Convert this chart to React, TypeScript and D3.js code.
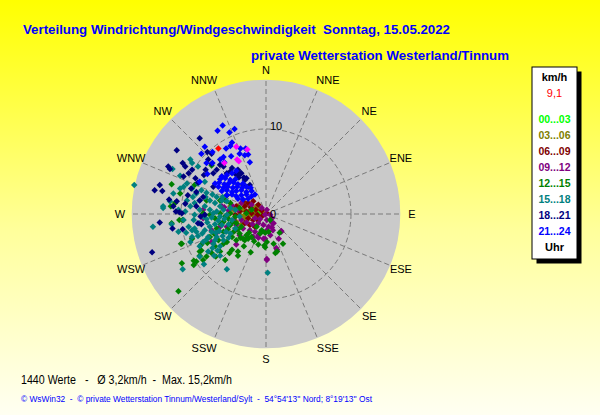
import React from "react";
import * as d3 from "d3";

const W = 600;
const H = 415;
const CX = 266;
const CY = 214;

const compassLabels = ["N", "NNE", "NE", "ENE", "E", "ESE", "SE", "SSE", "S", "SSW", "SW", "WSW", "W", "WNW", "NW", "NNW"];
const ringValues = [10];
const centerLabel = "0";
const maxAxisSpeed = 15.8;
const legendUnit = "km/h";
const currentSpeedLabel = "9,1";
const hourBands = ["00...03", "03...06", "06...09", "09...12", "12...15", "15...18", "18...21", "21...24"];
const bandColors = ["#00ff00", "#808000", "#800000", "#800080", "#008000", "#008080", "#000080", "#0000ff"];
const legendFooter = "Uhr";
const title1 = "Verteilung Windrichtung/Windgeschwindigkeit  Sonntag, 15.05.2022";
const title2 = "private Wetterstation Westerland/Tinnum";
const statsText = "1440 Werte   -   \u00D8 3,2km/h  -  Max. 15,2km/h";
const footerText = "\u00A9 WsWin32  -  \u00A9 private Wetterstation Tinnum/Westerland/Sylt  -  54\u00B054'13'' Nord; 8\u00B019'13'' Ost";

// wind vectors per 3-hour band: [east component, north component] in km/h
const h00: number[][] = [[-1.0, 0.3], [-0.6, 0.2], [-1.4, 0.5], [-0.8, -0.2]];
const h03: number[][] = [
  [-3.8, 0.5], [-3.3, 0.9], [-2.7, 0.5], [-2.3, 1.2], [-1.7, 0.7], [-1.1, 0.9], [-3.6, -0.3], [-3.1, -0.1],
  [-2.5, -0.5], [-1.9, -0.1], [-1.3, 0.1], [-0.7, 0.5], [-3.5, -0.9], [-2.9, -1.2], [-1.5, -0.2], [-0.8, -0.5],
  [-4.2, 0.9], [-4.4, -0.1], [-0.3, 0.1], [-2.0, 0.3], [-2.6, -0.2],
];
const h06: number[][] = [
  [-2.7, 1.5], [-2.1, 1.3], [-1.5, 1.5], [-0.9, 1.1], [-2.5, 0.9], [-1.8, 0.8], [-1.2, 0.5], [-0.5, 0.4],
  [-2.3, 0.3], [-1.7, 0.1], [-1.0, -0.1], [-0.4, -0.2], [-2.1, -0.5], [-1.5, -0.7], [-0.9, -0.8], [-2.5, -1.1],
  [-1.9, -1.3], [-1.3, -1.5], [-3.1, 0.3], [-3.5, 0.9], [-3.6, -0.1], [0.1, 0.1],
];
const h09: number[][] = [
  [-1.7, 1.1], [-0.5, 0.7], [0.1, 0.5], [-0.1, -0.1], [0.5, -0.1], [-1.3, -0.5], [-0.7, -0.6], [0.1, -0.7],
  [0.7, -0.5], [-2.9, -0.7], [-2.3, -1.0], [-1.6, -1.2], [-0.9, -1.1], [-0.3, -1.3], [0.3, -1.5], [-3.5, -1.3],
  [-2.7, -1.7], [-1.9, -1.9], [-1.3, -2.1], [-0.5, -2.1], [0.1, -1.9], [0.8, -1.9], [-3.6, -1.9], [-3.1, -2.5],
  [-2.2, -2.7], [-1.6, -2.7], [-0.9, -2.5], [-0.1, -2.9], [1.8, -2.1], [1.5, -2.9], [0.1, -5.4], [1.2, -4.0],
  [-5.2, 0.9], [-7.4, -0.5], [-6.4, -1.9], [-5.4, -1.5], [-4.6, -1.5], [-3.8, -0.7], [-3.3, 0.5], [-2.9, 1.3],
  [0.9, -1.1], [0.5, -2.5], [-7.4, 0.5], [-6.4, -3.3], [-5.9, -2.3], [-3.5, -3.6], [0.1, -5.3], [1.3, -4.2],
  [1.8, -2.0], [0.7, -1.6], [0.7, -1.0], [-0.3, -2.9], [-0.9, -2.8], [-1.5, -2.7], [-4.9, 0.8], [-4.4, 0.4], [-4.0, 1.0],
];
const h12: number[][] = [
  [-11.1, 3.5], [-11.2, 0.9], [-10.2, -0.7], [-10.0, -3.5], [-8.5, -5.5], [-8.5, -6.0], [-10.3, -9.1], [-7.6, -4.3],
  [-7.0, -5.0], [-7.8, -4.9], [-6.4, 5.7], [-4.0, -4.2], [-3.3, -4.4], [-3.3, -4.9], [-4.8, -5.4], [-1.8, -4.5],
  [-0.2, -3.7], [-0.1, -3.9], [0.9, -3.5], [2.0, -3.5], [1.1, -4.6], [1.3, -4.4], [1.6, -2.2], [0.3, -2.1],
  [-0.7, -2.3], [-0.1, -2.2], [-2.7, -2.9], [-2.1, -2.9], [0.5, -0.7],
  [-6.6, -0.1], [-6.0, -0.5], [-5.4, 0.1], [-4.8, -0.3], [-4.2, 0.1], [-3.6, -0.3], [-5.0, -0.9], [-4.2, -1.3],
  [-3.5, -1.1], [-2.9, -1.5], [-5.8, -1.7], [-5.0, -2.1], [-3.8, -2.1], [-3.1, -2.3], [-2.3, -2.5], [-6.6, -2.7],
  [-5.6, -3.1], [-4.6, -3.3], [-3.5, -3.1], [-2.5, -3.1], [-1.7, -2.7], [-7.6, -3.6], [-6.0, -3.8], [-5.0, -3.5],
  [-7.8, -4.4], [-6.4, -4.6], [-5.4, -4.4], [-7.4, -5.4], [-8.2, -5.6], [-9.9, -3.5], [-9.9, -5.8], [0.1, -3.3],
  [-1.1, -1.5], [-0.5, -1.9], [-2.3, 0.1], [-1.7, 0.5], [-3.1, 0.7], [-4.2, 1.3], [-4.8, 1.6], [-5.4, 1.6],
  [-7.4, 0.1], [-7.0, 1.6], [-11.1, -1.1], [-10.7, 1.3], [-10.1, 2.4], [-8.4, 3.4], [-9.8, -0.7], [-8.7, -2.9], [-4.6, 2.2],
  [-4.4, -0.6], [-3.9, -0.9], [-5.3, -1.2], [-4.5, -1.8], [-3.3, -1.8], [-4.0, -2.7], [-3.0, -2.8], [-2.0, -2.2],
  [-1.4, -3.2], [-6.1, -2.3], [-6.9, -3.4], [-5.9, -5.0], [-0.9, -3.6], [-2.6, -3.8], [-4.3, -4.6],
];
const h15: number[][] = [
  [-15.5, 3.4], [-13.3, -1.5], [-11.0, 5.3], [-8.9, 6.4], [-8.7, 6.0], [-10.1, 4.5], [-9.7, 3.2], [-8.0, 5.6],
  [-11.1, -1.2], [-8.7, -1.9], [-8.4, -1.7], [-9.8, -6.5], [-7.3, -5.9], [-6.1, -4.9], [-5.4, -4.9], [-4.6, -6.5],
  [0.2, -6.9], [-12.1, 0.7],
  [-8.7, 3.0], [-8.2, 2.4], [-7.6, 2.8], [-7.1, 2.0], [-7.8, 1.6], [-8.4, 1.3], [-6.6, 1.6], [-6.0, 1.3],
  [-5.4, 0.9], [-7.2, 0.9], [-7.8, 0.5], [-6.6, 0.5], [-5.8, 0.3], [-5.0, 0.5], [-8.4, -0.1], [-7.4, -0.3],
  [-6.4, -0.4], [-5.4, -0.3], [-4.6, -0.1], [-7.8, -1.1], [-6.9, -1.0], [-6.0, -1.2], [-5.2, -1.3], [-4.4, -1.2],
  [-7.2, -1.9], [-6.4, -2.1], [-5.5, -2.0], [-4.7, -2.1], [-6.8, -2.7], [-5.8, -2.7], [-5.0, -3.1], [-7.4, -3.3],
  [-6.2, -3.5], [-7.8, -3.8], [-5.4, -3.8], [-6.8, -4.4], [-4.2, 0.7], [-3.6, 0.5], [-5.8, 2.0], [-5.2, 1.6],
  [-4.6, 1.5], [-9.3, 1.6], [-8.9, 0.9], [-9.5, 0.3], [-8.5, -0.7], [-9.1, -1.5], [-8.2, -2.1], [-8.7, -2.7],
  [-4.0, -0.7], [-3.6, -1.7], [-4.2, -2.3], [-3.1, -0.3], [-8.0, 3.6], [-7.2, 3.8], [-9.3, 3.6], [-10.1, 3.0],
  [-10.9, 2.4], [-12.1, 0.9], [-11.3, 1.5], [-10.3, 0.5], [-9.7, -0.7], [-10.3, -2.1], [-7.8, -5.0],
  [-7.0, -0.6], [-6.2, 0.1], [-5.6, -0.8], [-4.9, -0.6], [-6.6, -1.5], [-5.9, -2.2], [-5.1, -2.6], [-4.4, -2.8],
  [-6.0, -3.1], [-7.0, -3.0], [-8.0, -2.6], [-7.5, -2.3], [-6.3, -4.0], [-5.7, -4.3], [-8.9, -3.3], [-9.4, -2.2],
  [-7.0, 2.5], [-6.3, 2.3], [-5.1, 2.0], [-8.6, 2.0],
];
const h18: number[][] = [
  [-7.8, 8.9], [-10.5, 7.5], [-11.5, 5.6], [-11.3, 5.3], [-9.8, 6.0], [-9.5, 5.6], [-12.5, 3.4], [-13.1, 2.8],
  [-12.2, 2.7], [-11.4, 1.7], [-10.5, 1.5], [-10.6, 0.3], [-10.2, 0.2], [-9.5, 1.2], [-9.2, 2.2], [-12.5, -1.0],
  [-13.4, -4.5], [-11.0, -1.7], [-9.8, -1.8], [-8.0, -1.1], [-7.6, -1.2], [-7.7, -0.3], [-7.2, -0.1], [-8.8, 3.0],
  [-8.0, 3.7], [-8.3, 4.2], [-7.3, 4.6], [-7.1, 5.2], [-6.9, 7.3], [-6.4, 7.1], [-6.4, 5.9], [-5.8, 5.2],
  [-6.2, 4.8], [-4.0, 5.4], [-3.3, 4.6], [-3.2, 4.3], [-3.0, 4.8], [-2.3, 4.2], [-2.7, 3.4], [-2.1, 3.2],
  [-2.5, 4.0], [-9.1, 4.8], [-8.7, 5.2], [-9.7, 4.4], [-8.2, 2.6], [-7.4, 2.0], [-10.9, 0.9], [-6.8, 6.4],
  [-5.4, 5.8], [-5.0, 5.6], [-8.2, 0.9], [-5.2, 4.4], [-4.6, 4.8], [-9.9, 0.1], [-7.8, 1.6], [-6.2, 3.2],
  [-3.3, 5.2], [-2.9, 4.8], [-2.6, 4.3], [-3.6, 4.7], [-1.9, 3.4], [-4.2, 5.0],
];
const h21: number[][] = [
  [-5.1, 10.4], [-5.7, 9.8], [-3.7, 10.0], [-4.3, 9.6], [-4.0, 8.4], [-4.2, 8.0], [-4.7, 7.7], [-3.0, 7.7],
  [-2.4, 7.7], [-2.5, 6.9], [-2.1, 7.0], [-1.9, 6.1], [-7.2, 7.9], [-7.6, 7.1], [-3.1, 7.1], [-6.3, 7.3],
  [-5.0, 6.7], [-4.1, 6.8], [-4.9, 6.1], [-5.4, 6.4], [-7.0, 6.0], [-6.3, 6.0], [-7.8, 3.8], [-6.9, 4.7],
  [-4.6, 4.6], [-4.0, 4.8], [-5.2, 4.4], [-3.5, 5.1],
  [-5.4, 4.1], [-4.8, 4.2], [-4.2, 4.0], [-3.6, 4.1],
  [-6.0, 3.6], [-5.5, 3.7], [-4.9, 3.5], [-4.4, 3.6], [-3.8, 3.7], [-3.3, 3.5], [-2.7, 3.6],
  [-5.6, 3.2], [-5.0, 3.1], [-4.5, 3.2], [-3.9, 3.1], [-3.4, 3.2], [-2.8, 3.1], [-2.3, 3.2], [-1.8, 3.1],
  [-5.2, 2.7], [-4.6, 2.8], [-4.0, 2.6], [-3.5, 2.7], [-2.9, 2.8], [-2.3, 2.6], [-1.7, 2.7],
  [-4.6, 2.2], [-4.0, 2.3], [-3.5, 2.1], [-2.9, 2.2], [-2.3, 2.3], [-1.7, 2.1], [-1.3, 2.3],
  [-3.3, 1.8], [-2.7, 1.7], [-2.1, 1.8],
];
const lastValues: number[][] = [[-3.5, 7.9], [-2.2, 7.6], [-4.9, 6.0], [-3.4, 6.4], [-3.2, 6.2]];
const currentValue: number[][] = [[-5.6, 7.7]];

const bandData = [h00, h03, h06, h09, h12, h15, h18, h21];
const lastColor = "#ff00ff";
const currentColor = "#ff0000";

const FONT = "'Liberation Sans', Arial, sans-serif";

export default function App() {
  const r = d3.scaleLinear().domain([0, 10]).range([0, 85]);
  const outer = r(maxAxisSpeed);
  const ang = d3.scaleLinear().domain([0, compassLabels.length]).range([0, 2 * Math.PI]);
  const diamond = d3.symbol(d3.symbolSquare, 21)() as string;

  const layers = [
    ...bandData.map((pts, i) => ({ pts, color: bandColors[i] })),
    { pts: lastValues, color: lastColor },
    { pts: currentValue, color: currentColor },
  ];

  return (
    <div style={{ position: "absolute", left: 0, top: 0 }}>
      <svg width={W} height={H} style={{ display: "block" }} fontFamily={FONT}>
        <defs>
          <linearGradient id="bg" x1="0" y1="0" x2="0" y2="1">
            <stop offset="0" stopColor="#ffff00" />
            <stop offset="0.55" stopColor="#ffff9a" />
            <stop offset="1" stopColor="#fffff2" />
          </linearGradient>
        </defs>
        <rect x={0} y={0} width={W} height={H} fill="url(#bg)" />

        <text x={23} y={33.5} fontSize={13} fontWeight="bold" fill="#0000ff" textLength={427} lengthAdjust="spacingAndGlyphs" style={{ whiteSpace: "pre" }}>
          {title1}
        </text>
        <text x={251} y={60} fontSize={13} fontWeight="bold" fill="#0000ff" textLength={258} lengthAdjust="spacingAndGlyphs">
          {title2}
        </text>

        <circle cx={CX} cy={CY} r={outer} fill="#cacaca" />

        {compassLabels.map((_, i) => {
          const a = ang(i);
          const x1 = CX + Math.sin(a) * 8;
          const y1 = CY - Math.cos(a) * 8;
          const x2 = CX + Math.sin(a) * outer;
          const y2 = CY - Math.cos(a) * outer;
          return <line key={"s" + i} x1={x1} y1={y1} x2={x2} y2={y2} stroke="#7a7a7a" strokeWidth={1} strokeDasharray="5,3" />;
        })}
        {ringValues.map((v) => (
          <circle key={"r" + v} cx={CX} cy={CY} r={r(v)} fill="none" stroke="#7a7a7a" strokeWidth={1} strokeDasharray="5,3" />
        ))}
        {ringValues.map((v) => (
          <text key={"rl" + v} x={CX + 10} y={CY - r(v) - 3} dy="0.35em" fontSize={11} textAnchor="middle" fill="#000">
            {String(v)}
          </text>
        ))}

        {layers.map((layer, li) =>
          layer.pts.map((p, pi) => (
            <path
              key={li + "-" + pi}
              d={diamond}
              transform={`translate(${CX + r(p[0])},${CY - r(p[1])}) rotate(45)`}
              fill={layer.color}
            />
          ))
        )}

        <text x={CX + 7} y={CY} dy="0.35em" fontSize={11} textAnchor="middle" fill="#000">
          {centerLabel}
        </text>

        {compassLabels.map((lab, i) => {
          const a = ang(i);
          const s = Math.sin(a);
          const c = Math.cos(a);
          const extra = Math.abs(c) > 0.9 && Math.abs(s) > 0.3 ? 6 * Math.sign(s) : 0;
          const x = CX + s * 146 + extra;
          const y = CY - c * 145 + (c > 0.99 ? 1.5 : 0);
          return (
            <text key={"l" + lab} x={x} y={y} dy="0.36em" fontSize={11} textAnchor="middle" fill="#000">
              {lab}
            </text>
          );
        })}

        <rect x={536.5} y={71.5} width={45} height={192} fill="#000" />
        <rect x={532} y={67} width={45} height={192} fill="#fff" stroke="#000" strokeWidth={1} />
        <text x={554.5} y={80.5} fontSize={11} fontWeight="bold" textAnchor="middle" fill="#000">
          {legendUnit}
        </text>
        <text x={554.5} y={96.5} fontSize={11} textAnchor="middle" fill={currentColor}>
          {currentSpeedLabel}
        </text>
        {hourBands.map((b, i) => (
          <text key={b} x={554.5} y={123 + i * 16} fontSize={10.5} fontWeight="bold" textAnchor="middle" fill={bandColors[i]}>
            {b}
          </text>
        ))}
        <text x={554.5} y={251} fontSize={11} fontWeight="bold" textAnchor="middle" fill="#000">
          {legendFooter}
        </text>

        <text x={21} y={383.5} fontSize={12} fill="#000" textLength={211} lengthAdjust="spacingAndGlyphs" style={{ whiteSpace: "pre" }}>
          {statsText}
        </text>
        <text x={21} y={401.5} fontSize={8.5} fill="#0000ff" textLength={351} lengthAdjust="spacingAndGlyphs" style={{ whiteSpace: "pre" }}>
          {footerText}
        </text>
      </svg>
    </div>
  );
}
